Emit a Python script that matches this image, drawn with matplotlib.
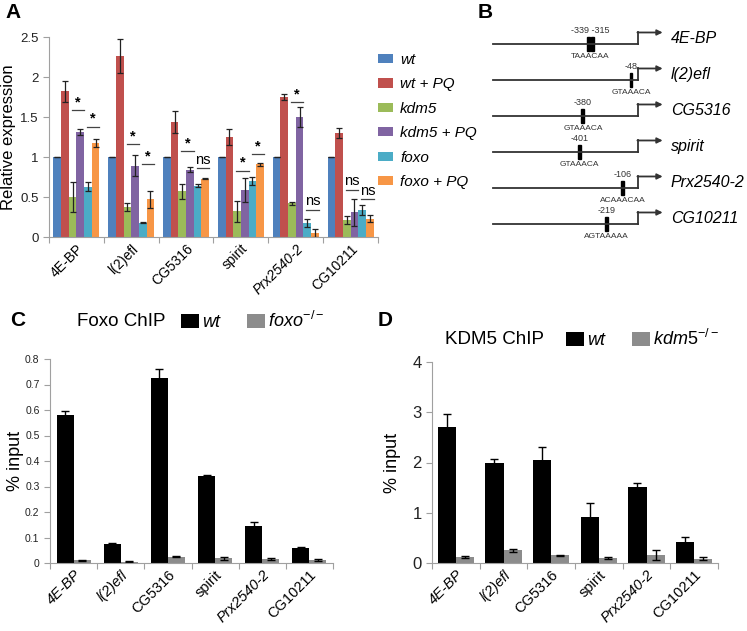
import numpy as np
import matplotlib
matplotlib.use("Agg")
import matplotlib.pyplot as plt
from matplotlib.patches import Patch

plt.rcParams['font.family'] = ['Liberation Sans', 'DejaVu Sans']
plt.rcParams['mathtext.fontset'] = 'custom'
plt.rcParams['mathtext.it'] = 'Liberation Sans:italic'
plt.rcParams['mathtext.rm'] = 'Liberation Sans'

genes = ['4E-BP', 'l(2)efl', 'CG5316', 'spirit', 'Prx2540-2', 'CG10211']
italic_genes_chip = ['4E-BP', 'l(2)efl', 'Prx2540-2']

# panel A - relative expression
conditions = ['wt', 'wt + PQ', 'kdm5', 'kdm5 + PQ', 'foxo', 'foxo + PQ']
colors_a = ['#4F81BD', '#C0504D', '#9BBB59', '#8064A2', '#4BACC6', '#F79646']
expr_wt = [1.0, 1.0, 1.0, 1.0, 1.0, 1.0]
expr_wt_pq = [1.82, 2.26, 1.44, 1.25, 1.75, 1.30]
expr_kdm5 = [0.50, 0.38, 0.57, 0.32, 0.42, 0.21]
expr_kdm5_pq = [1.31, 0.89, 0.84, 0.59, 1.50, 0.31]
expr_foxo = [0.63, 0.18, 0.64, 0.70, 0.17, 0.34]
expr_foxo_pq = [1.18, 0.47, 0.73, 0.91, 0.05, 0.23]
err_wt = [0.004, 0.004, 0.004, 0.004, 0.004, 0.004]
err_wt_pq = [0.13, 0.21, 0.14, 0.10, 0.04, 0.06]
err_kdm5 = [0.19, 0.05, 0.09, 0.13, 0.02, 0.05]
err_kdm5_pq = [0.04, 0.13, 0.03, 0.15, 0.13, 0.17]
err_foxo = [0.06, 0.01, 0.02, 0.05, 0.05, 0.06]
err_foxo_pq = [0.05, 0.11, 0.01, 0.02, 0.05, 0.04]

# significance marks: gene, first bar of the pair, label, height
sig_gene = [0, 0, 1, 1, 2, 2, 3, 3, 4, 4, 5, 5]
sig_bar = [2, 4, 2, 4, 2, 4, 2, 4, 2, 4, 2, 4]
sig_label = ['*', '*', '*', '*', '*', 'ns', '*', '*', '*', 'ns', 'ns', 'ns']
sig_y = [1.59, 1.38, 1.16, 0.91, 1.07, 0.86, 0.83, 1.04, 1.69, 0.34, 0.59, 0.47]

# panel B - promoter schematic
site_pos = [[-339, -315], [-48], [-380], [-401], [-106], [-219]]
site_seq = ['TAAACAA', 'GTAAACA', 'GTAAACA', 'GTAAACA', 'ACAAACAA', 'AGTAAAAA']

# panel C - Foxo ChIP
foxo_wt = [0.58, 0.075, 0.725, 0.34, 0.145, 0.058]
foxo_wt_err = [0.017, 0.005, 0.035, 0.005, 0.015, 0.005]
foxo_ko = [0.010, 0.005, 0.025, 0.018, 0.015, 0.012]
foxo_ko_err = [0.002, 0.001, 0.003, 0.006, 0.005, 0.003]

# panel D - KDM5 ChIP
kdm5_wt = [2.70, 1.99, 2.05, 0.91, 1.51, 0.42]
kdm5_wt_err = [0.26, 0.07, 0.25, 0.29, 0.08, 0.10]
kdm5_ko = [0.11, 0.25, 0.15, 0.10, 0.16, 0.08]
kdm5_ko_err = [0.02, 0.03, 0.01, 0.02, 0.10, 0.03]

axis_grey = '#A0A0A0'


def excel_axes(ax, ylim, yticks, ytick_size):
    for s in ['top', 'right']:
        ax.spines[s].set_visible(False)
    for s in ['left', 'bottom']:
        ax.spines[s].set_color(axis_grey)
    ax.set_xlim(-0.5, 5.5)
    ax.set_ylim(*ylim)
    ax.set_yticks(yticks)
    ax.tick_params(axis='y', colors=axis_grey, labelcolor='#222222',
                   labelsize=ytick_size, length=4)
    ax.set_xticks(np.arange(-0.5, 6, 1.0))
    ax.set_xticklabels([])
    ax.tick_params(axis='x', colors=axis_grey, length=4)
    ax.set_xticks(np.arange(6), minor=True)
    ax.tick_params(axis='x', which='minor', length=0)


def gene_labels(ax, size, italic_list):
    labs = ax.set_xticklabels(genes, minor=True, rotation=45, ha='right', va='top',
                              rotation_mode='anchor', fontsize=size)
    for t in labs:
        if t.get_text() in italic_list:
            t.set_style('italic')


fig = plt.figure(figsize=(7.47, 6.31), dpi=100)

# ---------------- A
ax_a = fig.add_axes([49 / 747, 1 - 237 / 631, 329 / 747, 200 / 631])
excel_axes(ax_a, (0, 2.5), [0, 0.5, 1, 1.5, 2, 2.5], 9.5)
ax_a.set_yticklabels(['0', '0.5', '1', '1.5', '2', '2.5'])
x = np.arange(len(genes))
bw = 0.14
series = [expr_wt, expr_wt_pq, expr_kdm5, expr_kdm5_pq, expr_foxo, expr_foxo_pq]
errs = [err_wt, err_wt_pq, err_kdm5, err_kdm5_pq, err_foxo, err_foxo_pq]
offsets = (np.arange(6) - 2.5) * bw
for i in range(6):
    ax_a.bar(x + offsets[i], series[i], bw, color=colors_a[i], label=conditions[i],
             yerr=errs[i], error_kw=dict(ecolor='#222222', elinewidth=0.9, capsize=2, capthick=0.9))
for g, b, lab, yy in zip(sig_gene, sig_bar, sig_label, sig_y):
    x1 = g + offsets[b] - bw * 0.1
    x2 = g + offsets[b + 1] + bw * 0.5
    ax_a.plot([x1, x2], [yy, yy], color='#444444', lw=0.9)
    if lab == '*':
        ax_a.text((x1 + x2) / 2, yy + 0.01, '*', ha='center', va='bottom', fontsize=10.5, fontweight='bold')
    else:
        ax_a.text((x1 + x2) / 2, yy + 0.02, 'ns', ha='center', va='bottom', fontsize=10.5)
gene_labels(ax_a, 10, ['Prx2540-2'])
ax_a.set_ylabel('Relative expression', fontsize=12, labelpad=3)
handles = [Patch(facecolor=c) for c in colors_a]
leg = ax_a.legend(handles, conditions, loc='upper left', bbox_to_anchor=(378 / 747, 1 - 53 / 631),
                  bbox_transform=fig.transFigure, frameon=False, fontsize=11,
                  handlelength=0.95, handleheight=0.55, handletextpad=0.5,
                  labelspacing=0.68, borderaxespad=0, borderpad=0)
for t in leg.get_texts():
    t.set_style('italic')

# ---------------- B
ax_b = fig.add_axes([480 / 747, 1 - 240 / 631, 267 / 747, 220 / 631])
ax_b.axis('off')
px_per_bp = 0.145
ax_b.set_xlim(-158 / px_per_bp, 109 / px_per_bp)
ax_b.set_ylim(5 + 16 / 36, -24 / 36)
for r, gname in enumerate(genes):
    ax_b.plot([-1000, 0], [r, r], color='#333333', lw=1.3)
    ax_b.plot([0, 0], [r, r - 0.32], color='#333333', lw=1.3)
    ax_b.annotate('', xy=(170, r - 0.32), xytext=(-4, r - 0.32),
                  arrowprops=dict(arrowstyle='-|>', color='#333333', lw=1.3,
                                  mutation_scale=8, shrinkA=0, shrinkB=0))
    ax_b.text(225, r - 0.15, gname, fontsize=11.5, style='italic', va='center', ha='left')
    for p in site_pos[r]:
        ax_b.add_patch(plt.Rectangle((p - 10, r - 0.2), 20, 0.4, color='black'))
    xm = np.mean(site_pos[r])
    ax_b.text(xm, r - 0.24, ' '.join(str(p) for p in site_pos[r]), fontsize=6.5,
              ha='center', va='bottom', color='#333333')
    ax_b.text(xm, r + 0.24, site_seq[r], fontsize=6, ha='center', va='top', color='#333333')

# ---------------- C
ax_c = fig.add_axes([50 / 747, 1 - 563 / 631, 283 / 747, 204 / 631])
excel_axes(ax_c, (0, 0.8), np.arange(0, 0.81, 0.1), 7.5)
ax_c.set_yticklabels(['0', '0.1', '0.2', '0.3', '0.4', '0.5', '0.6', '0.7', '0.8'])
cw = 0.36
ax_c.bar(x - cw / 2, foxo_wt, cw, color='black', yerr=foxo_wt_err,
         error_kw=dict(ecolor='black', elinewidth=1, capsize=3, capthick=1))
ax_c.bar(x + cw / 2, foxo_ko, cw, color='#8C8C8C', yerr=foxo_ko_err,
         error_kw=dict(ecolor='black', elinewidth=1, capsize=3, capthick=1))
gene_labels(ax_c, 10.5, italic_genes_chip)
ax_c.set_ylabel('% input', fontsize=13, labelpad=1)
fig.text(77 / 747, 1 - 321 / 631, 'Foxo ChIP', fontsize=13.5, va='center', ha='left')
leg_c = ax_c.legend([Patch(facecolor='black'), Patch(facecolor='#8C8C8C')],
                    ['wt', r'$\mathit{foxo}^{-/-}$'], ncol=2, loc='center left',
                    bbox_to_anchor=(181 / 747, 1 - 321 / 631), bbox_transform=fig.transFigure,
                    frameon=False, fontsize=13, handlelength=1.0, handleheight=0.8,
                    handletextpad=0.15, columnspacing=1.5, borderaxespad=0, borderpad=0)
leg_c.get_texts()[0].set_style('italic')

# ---------------- D
ax_d = fig.add_axes([432 / 747, 1 - 563 / 631, 286 / 747, 201 / 631])
excel_axes(ax_d, (0, 4), [0, 1, 2, 3, 4], 12)
dw = 0.38
ax_d.bar(x - dw / 2, kdm5_wt, dw, color='black', yerr=kdm5_wt_err,
         error_kw=dict(ecolor='black', elinewidth=1, capsize=3, capthick=1))
ax_d.bar(x + dw / 2, kdm5_ko, dw, color='#8C8C8C', yerr=kdm5_ko_err,
         error_kw=dict(ecolor='black', elinewidth=1, capsize=3, capthick=1))
gene_labels(ax_d, 10.5, italic_genes_chip)
ax_d.set_ylabel('% input', fontsize=13, labelpad=8)
fig.text(445 / 747, 1 - 339 / 631, 'KDM5 ChIP', fontsize=13.5, va='center', ha='left')
leg_d = ax_d.legend([Patch(facecolor='black'), Patch(facecolor='#8C8C8C')],
                    ['wt', r'$\mathit{kdm5}^{-/-}$'], ncol=2, loc='center left',
                    bbox_to_anchor=(566 / 747, 1 - 339 / 631), bbox_transform=fig.transFigure,
                    frameon=False, fontsize=13, handlelength=1.0, handleheight=0.8,
                    handletextpad=0.15, columnspacing=1.5, borderaxespad=0, borderpad=0)
leg_d.get_texts()[0].set_style('italic')

# panel letters
for lab, px, py in [('A', 5, 13), ('B', 478, 13), ('C', 10, 321), ('D', 378, 321)]:
    fig.text(px / 747, 1 - py / 631, lab, fontsize=15, fontweight='bold', va='center', ha='left')

fig.savefig('out.png', dpi=100)
